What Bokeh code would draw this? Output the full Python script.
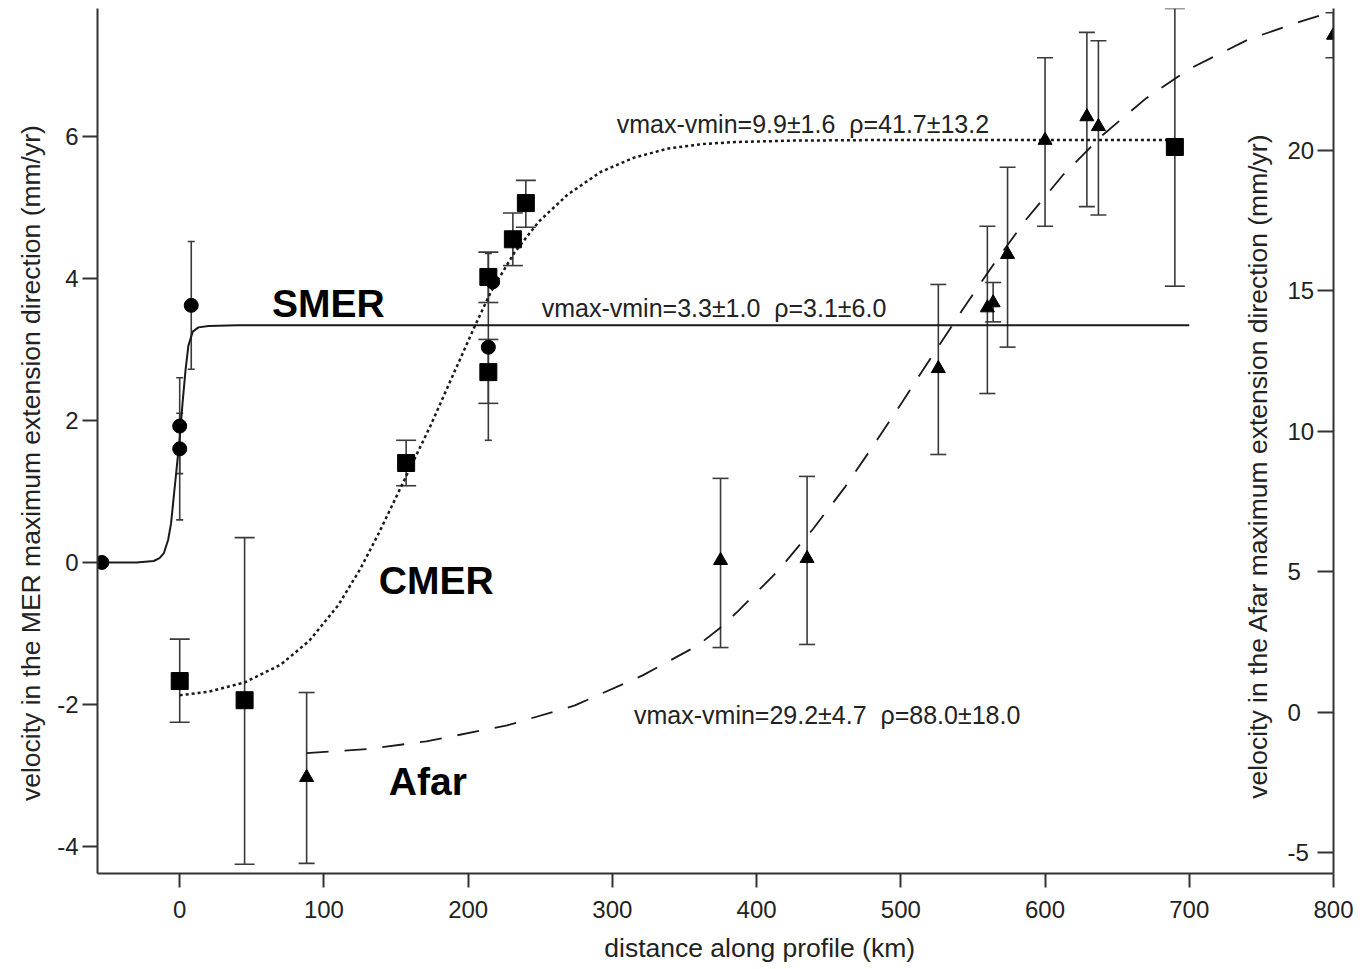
import math
from bokeh.plotting import figure
from bokeh.models import (Range1d, LinearAxis, FixedTicker, ColumnDataSource, Whisker, TeeHead,
                          PrintfTickFormatter, Label)
from bokeh.core.properties import value
from bokeh.embed import file_html
from bokeh.resources import INLINE

FONT = "Liberation Sans"
INK = "#1a1a1a"
SP2 = "\u00a0\u00a0"

# ---------------- data ----------------
# SMER (circles, left axis)
smer_x = [-54, 0, 0, 8, 214, 217]
smer_y = [0.0, 1.92, 1.60, 3.62, 3.03, 3.95]
smer_lo = [None, 1.25, 0.60, 2.72, 1.72, None]
smer_hi = [None, 2.60, 2.10, 4.52, 4.35, None]

# CMER (squares, left axis)
cmer_x = [0, 45, 157, 214, 214, 231, 240, 690]
cmer_y = [-1.67, -1.94, 1.40, 4.02, 2.68, 4.55, 5.06, 5.85]
cmer_lo = [-2.25, -4.25, 1.08, 3.66, 2.24, 4.18, 4.72, 3.89]
cmer_hi = [-1.08, 0.35, 1.72, 4.37, 3.14, 4.92, 5.38, 7.80]

# Afar (triangles, right axis)
afar_x = [88, 375, 435, 526, 560, 564, 574, 600, 629, 637, 800]
afar_y = [-2.31, 5.41, 5.48, 12.24, 14.40, 14.58, 16.30, 20.36, 21.20, 20.85, 24.10]
afar_lo = [-5.37, 2.31, 2.42, 9.18, 11.35, 13.90, 13.00, 17.30, 18.00, 17.70, 23.30]
afar_hi = [0.71, 8.33, 8.40, 15.23, 17.30, 15.30, 19.40, 23.30, 24.20, 23.90, 24.90]

# fitted curves
smer_fit_x = [-57, -30, -18, -14, -11, -8, -6, -4, -2, 0, 2, 4, 6, 9, 13, 20, 40, 700]
smer_fit_y = [0.00, 0.00, 0.02, 0.06, 0.13, 0.32, 0.55, 0.95, 1.35, 1.75, 2.25, 2.70, 3.05, 3.25, 3.31, 3.33, 3.34, 3.34]

cmer_fit_x = [0, 20, 45, 70, 90, 110, 125, 138, 151, 160, 174, 188, 204, 216, 232, 249, 269, 292, 315, 339, 362, 385, 426, 500, 690]
cmer_fit_y = [-1.87, -1.82, -1.69, -1.44, -1.10, -0.60, -0.10, 0.41, 0.96, 1.34, 1.93, 2.57, 3.30, 3.82, 4.36, 4.80, 5.18, 5.50, 5.70, 5.83, 5.89, 5.92, 5.94, 5.95, 5.95]

afar_fit_x = [88, 130, 171, 227, 274, 321, 359, 374, 387, 415, 439, 461, 481, 501, 520, 543, 565, 587, 612, 640, 670, 700, 741, 778, 800]
afar_fit_y = [-1.45, -1.30, -1.03, -0.46, 0.25, 1.32, 2.38, 2.98, 3.60, 5.05, 6.52, 8.00, 9.50, 11.05, 12.55, 14.35, 16.00, 17.55, 19.10, 20.55, 21.85, 22.90, 23.95, 24.60, 24.95]

x_ticks = [0, 100, 200, 300, 400, 500, 600, 700, 800]
left_ticks = [-4, -2, 0, 2, 4, 6]
right_ticks = [-5, 0, 5, 10, 15, 20]

x_title = "distance along profile (km)"
left_title = "velocity in the MER maximum extension direction (mm/yr)"
right_title = "velocity in the Afar maximum extension direction (mm/yr)"

fit_labels = ["vmax-vmin=9.9±1.6" + SP2 + "ρ=41.7±13.2",
              "vmax-vmin=3.3±1.0" + SP2 + "ρ=3.1±6.0",
              "vmax-vmin=29.2±4.7" + SP2 + "ρ=88.0±18.0"]
fit_label_x = [303, 251, 315]
fit_label_y = [6.17, 3.58, -2.15]

region_names = ["SMER", "CMER", "Afar"]
region_x = [64, 138, 145]
region_y = [3.65, -0.25, -3.08]

# ---------------- figure ----------------
p = figure(frame_width=1236, frame_height=865,
           x_range=Range1d(-57, 800), y_range=Range1d(-4.38, 7.80),
           output_backend="svg", toolbar_location=None,
           min_border_left=97, min_border_right=20, min_border_top=8, min_border_bottom=90,
           background_fill_color="white", border_fill_color="white")
p.outline_line_color = None
p.xgrid.visible = False
p.ygrid.visible = False
p.extra_y_ranges = {"afar": Range1d(-5.73, 25.05)}


def style_axis(ax):
    ax.axis_line_width = 2
    ax.axis_line_color = "#333333"
    ax.major_tick_line_color = "#333333"
    ax.major_tick_line_width = 2
    ax.minor_tick_line_color = None
    ax.formatter = PrintfTickFormatter(format="%d")
    ax.major_label_text_font = FONT
    ax.major_label_text_font_size = "24px"
    ax.major_label_text_color = "#222222"
    ax.axis_label_text_font = FONT
    ax.axis_label_text_font_size = "26.5px"
    ax.axis_label_text_font_style = "normal"
    ax.axis_label_text_color = "#222222"


xa = p.xaxis[0]
style_axis(xa)
xa.ticker = FixedTicker(ticks=x_ticks)
xa.major_tick_out = 14
xa.major_tick_in = 0
xa.major_label_standoff = 13
xa.axis_label = "\u00a0" * 12 + x_title
xa.axis_label_standoff = 12

ya = p.yaxis[0]
style_axis(ya)
ya.ticker = FixedTicker(ticks=left_ticks)
ya.major_tick_out = 15
ya.major_tick_in = 0
ya.major_label_standoff = 4
ya.axis_label = left_title + "\u00a0" * 6
ya.axis_label_standoff = 8

ra = LinearAxis(y_range_name="afar", ticker=FixedTicker(ticks=right_ticks))
style_axis(ra)
ra.major_tick_in = 16
ra.major_tick_out = 0
ra.major_label_standoff = -46
p.add_layout(ra, "right")

# right axis title, inside the frame next to the right axis (as in the reference)
p.add_layout(Label(x=800, y=1.36, x_units="data", y_units="data", text=right_title,
                   angle=math.pi / 2, x_offset=-76, text_align="center", text_baseline="middle",
                   text_font=FONT, text_font_size="26.5px", text_color="#222222"))

# ---------------- curves ----------------
p.line(smer_fit_x, smer_fit_y, line_width=2, line_color=INK)
p.line(cmer_fit_x, cmer_fit_y, line_width=2.5, line_color=INK, line_dash="3 3")
p.line(afar_fit_x, afar_fit_y, y_range_name="afar", line_width=1.8, line_color=INK, line_dash="22 16")


# ---------------- error bars ----------------
def err_source(xs, lo, hi):
    d = {"x": [], "lo": [], "hi": []}
    for a, b, c in zip(xs, lo, hi):
        if b is None:
            continue
        d["x"].append(a)
        d["lo"].append(b)
        d["hi"].append(c)
    return ColumnDataSource(d)


def add_whisker(src, cap, rng="default"):
    w = Whisker(source=src, base="x", lower="lo", upper="hi", dimension="height",
                line_color="#3a3a3a", line_width=1.6, y_range_name=rng,
                upper_head=TeeHead(size=cap, line_color="#3a3a3a", line_width=1.6),
                lower_head=TeeHead(size=cap, line_color="#3a3a3a", line_width=1.6))
    p.add_layout(w)


add_whisker(err_source(smer_x, smer_lo, smer_hi), 7)
add_whisker(err_source(cmer_x, cmer_lo, cmer_hi), 20)
add_whisker(err_source(afar_x, afar_lo, afar_hi), 16, "afar")

# ---------------- markers ----------------
p.scatter(smer_x, smer_y, marker="circle", size=14, color="black")
p.scatter(cmer_x, cmer_y, marker="square", size=17, color="black")
p.scatter(afar_x, afar_y, marker="triangle", size=14, color="black", y_range_name="afar")

# ---------------- texts ----------------
p.text(x=fit_label_x, y=fit_label_y, text=fit_labels, text_font=value(FONT),
       text_font_size="25px", text_color="#222222", text_baseline="middle", text_align="left")
p.text(x=region_x, y=region_y, text=region_names, text_font=value(FONT),
       text_font_size="39px", text_font_style="bold", text_color="black",
       text_baseline="middle", text_align="left")

open("out.html", "w").write(file_html(p, INLINE))
